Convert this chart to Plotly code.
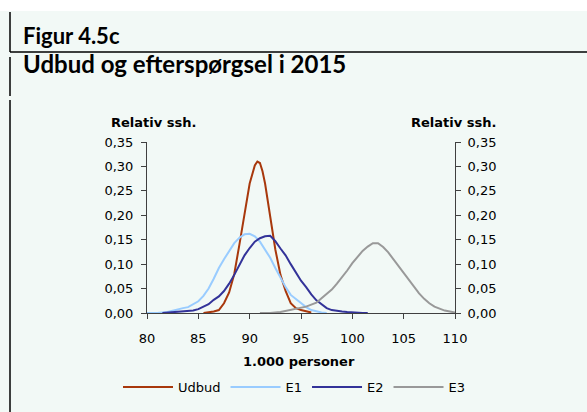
import plotly.graph_objects as go

# ---- data ----
udbud_x = [85.5, 86, 86.5, 87, 87.5, 88, 88.5, 89, 89.5, 90, 90.5, 90.75, 91, 91.25, 91.5, 92, 92.5, 93, 93.5, 94, 94.5, 95, 95.5, 96]
udbud_y = [0.0, 0.001, 0.003, 0.006, 0.02, 0.042, 0.08, 0.14, 0.2, 0.265, 0.302, 0.31, 0.307, 0.29, 0.265, 0.2, 0.13, 0.078, 0.045, 0.02, 0.01, 0.006, 0.003, 0.001]

e1_x = [80, 81, 82, 82.5, 83, 83.5, 84, 84.5, 85, 85.5, 86, 86.5, 87, 87.5, 88, 88.5, 89, 89.5, 90, 90.5, 91, 91.5, 92, 92.5, 93, 93.5, 94, 94.5, 95, 95.5, 96, 96.5, 97, 97.5]
e1_y = [0.0, 0.0, 0.002, 0.005, 0.008, 0.01, 0.012, 0.018, 0.024, 0.035, 0.05, 0.07, 0.092, 0.11, 0.127, 0.143, 0.154, 0.161, 0.162, 0.157, 0.146, 0.13, 0.113, 0.092, 0.072, 0.053, 0.037, 0.028, 0.02, 0.012, 0.006, 0.003, 0.001, 0.0]

e2_x = [81.5, 82, 82.5, 83, 83.5, 84, 84.5, 85, 85.5, 86, 86.5, 87, 87.5, 88, 88.5, 89, 89.5, 90, 90.5, 91, 91.5, 92, 92.5, 93, 93.5, 94, 94.5, 95, 95.5, 96, 96.5, 97, 97.5, 98, 98.5, 99, 99.5, 100, 100.5, 101, 101.5]
e2_y = [0.0, 0.001, 0.002, 0.002, 0.003, 0.004, 0.005, 0.008, 0.013, 0.018, 0.027, 0.034, 0.045, 0.06, 0.078, 0.098, 0.118, 0.133, 0.146, 0.153, 0.157, 0.158, 0.147, 0.132, 0.118, 0.1, 0.083, 0.066, 0.053, 0.038, 0.026, 0.017, 0.01, 0.006, 0.004, 0.003, 0.002, 0.001, 0.001, 0.0, 0.0]

e3_x = [91, 92, 93, 93.5, 94, 94.5, 95, 95.5, 96, 96.5, 97, 97.5, 98, 98.5, 99, 99.5, 100, 100.5, 101, 101.5, 102, 102.5, 103, 103.5, 104, 104.5, 105, 105.5, 106, 106.5, 107, 107.5, 108, 108.5, 109, 109.5, 110]
e3_y = [0.0, 0.0, 0.002, 0.004, 0.006, 0.008, 0.01, 0.013, 0.017, 0.021, 0.03, 0.039, 0.048, 0.06, 0.073, 0.087, 0.102, 0.115, 0.127, 0.136, 0.143, 0.143, 0.135, 0.124, 0.11, 0.096, 0.081, 0.066, 0.052, 0.04, 0.029, 0.02, 0.013, 0.009, 0.005, 0.003, 0.001]

series_names = ["Udbud", "E1", "E2", "E3"]
series_colors = ["#A8380C", "#99CCFF", "#333399", "#999999"]

y_ticks = [0, 0.05, 0.10, 0.15, 0.20, 0.25, 0.30, 0.35]
x_ticks = [80, 85, 90, 95, 100, 105, 110]

W, H = 587, 412
L, R, T, B = 147, 455, 142, 313  # plot area in pixels
pw, ph = R - L, B - T

def px(xp):
    return (xp - L) / pw

def py(yp):
    return (B - yp) / ph

fig = go.Figure()
for name, xs, ys, col in zip(series_names, [udbud_x, e1_x, e2_x, e3_x],
                             [udbud_y, e1_y, e2_y, e3_y], series_colors):
    fig.add_trace(go.Scatter(x=xs, y=ys, mode="lines", name=name,
                             line=dict(color=col, width=2)))
# invisible trace for right axis
fig.add_trace(go.Scatter(x=[80], y=[0], yaxis="y2", mode="markers",
                         marker=dict(opacity=0), showlegend=False, hoverinfo="skip"))

axis_font = dict(family="DejaVu Sans", size=13, color="#000000")
mint = "#F2F9F6"

fig.update_layout(
    width=W, height=H,
    margin=dict(l=L, r=W - R, t=T, b=H - B, pad=0, autoexpand=False),
    paper_bgcolor=mint,
    plot_bgcolor="rgba(0,0,0,0)",
    separators=", ",
    font=axis_font,
    showlegend=True,
    legend=dict(orientation="h", xref="paper", yref="paper",
                x=px(118), xanchor="left", y=py(372), yanchor="top",
                font=axis_font, bgcolor="rgba(0,0,0,0)", traceorder="normal",
                itemwidth=50),
    xaxis=dict(range=[80, 110], tickvals=x_ticks, showgrid=False, zeroline=False,
               showline=True, linecolor="#404040", linewidth=1, ticks="outside",
               ticklen=5, tickcolor="#404040", tickfont=axis_font, layer="below traces",
               ticklabelstandoff=8),
    yaxis=dict(range=[0, 0.35], tickvals=y_ticks, tickformat=".2f", showgrid=False,
               zeroline=False, showline=True, linecolor="#404040", linewidth=1,
               ticks="outside", ticklen=5, tickcolor="#404040", tickfont=axis_font,
               layer="below traces", ticklabelstandoff=5),
    yaxis2=dict(range=[0, 0.35], tickvals=y_ticks, tickformat=".2f", showgrid=False,
                zeroline=False, showline=True, linecolor="#404040", linewidth=1,
                ticks="outside", ticklen=5, tickcolor="#404040", tickfont=axis_font,
                overlaying="y", side="right", layer="below traces", ticklabelstandoff=4),
)

shapes = [
    # white strip at top
    dict(type="rect", xref="paper", yref="paper", x0=px(0), x1=px(W), y0=py(11), y1=py(0),
         fillcolor="#FFFFFF", line=dict(width=0), layer="below"),
    # horizontal rule under "Figur 4.5c"
    dict(type="line", xref="paper", yref="paper", x0=px(10), x1=px(W), y0=py(52), y1=py(52),
         line=dict(color="#000000", width=1.5)),
    # left vertical rule segments
    dict(type="line", xref="paper", yref="paper", x0=px(10), x1=px(10), y0=py(12), y1=py(52),
         line=dict(color="#000000", width=1.5)),
    dict(type="line", xref="paper", yref="paper", x0=px(10), x1=px(10), y0=py(57), y1=py(96),
         line=dict(color="#000000", width=1.5)),
    dict(type="line", xref="paper", yref="paper", x0=px(10), x1=px(10), y0=py(100), y1=py(H),
         line=dict(color="#000000", width=1.5)),
]
fig.update_layout(shapes=shapes)

bold = dict(family="DejaVu Sans", size=13, color="#000000")
annotations = [
    dict(text="Figur 4.5c", x=px(21), y=py(35), xanchor="left", yanchor="middle",
         font=dict(family="Lato", size=22, color="#000000", weight="bold")),
    dict(text="Udbud og efterspørgsel i 2015", x=px(21), y=py(64), xanchor="left", yanchor="middle",
         font=dict(family="Lato", size=24, color="#000000", weight="bold")),
    dict(text="<b>Relativ ssh.</b>", x=px(153), y=py(122), xanchor="center", yanchor="middle", font=bold),
    dict(text="<b>Relativ ssh.</b>", x=px(453), y=py(122), xanchor="center", yanchor="middle", font=bold),
    dict(text="<b>1.000 personer</b>", x=px(299), y=py(361), xanchor="center", yanchor="middle", font=bold),
]
for a in annotations:
    a.update(xref="paper", yref="paper", showarrow=False)
fig.update_layout(annotations=annotations)

fig.write_html("out.html", config={"displayModeBar": False},
               post_script="document.body.style.margin='0';document.body.style.overflow='hidden';")
